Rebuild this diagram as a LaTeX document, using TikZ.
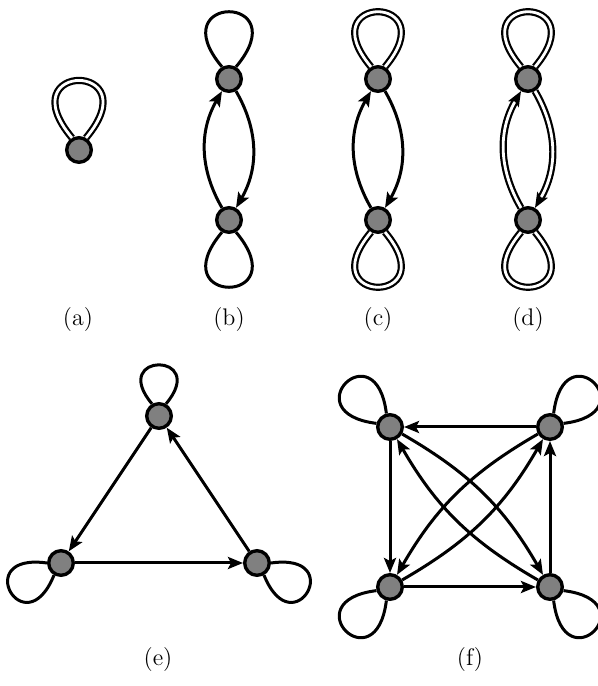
\documentclass[tikz,border=0pt]{standalone}
\usetikzlibrary{arrows.meta}
\definecolor{vgray}{RGB}{128,128,128}
\begin{document}
\begin{tikzpicture}[x=0.5pt,y=0.5pt,
  vtx/.style={circle, draw=black, fill=vgray, line width=1.7pt, minimum size=12.3pt, inner sep=0pt},
  edge/.style={line width=1.5pt},
  tip/.style={-{Stealth[length=7.5pt,width=6pt,inset=1.5pt]}},
  arr/.style={edge, tip},
  dbl/.style={double, line width=1.1pt, double distance=1.4pt},
  lab/.style={font=\fontsize{12}{14}\selectfont, inner sep=0pt}]
\useasboundingbox (0,0) rectangle (598,686);

% (a)
\node[vtx] (a) at (79,536) {};
\draw[dbl] (a.60) .. controls +(50:100) and +(130:100) .. (a.120);
\node[lab] (la) at (78,366) {(a)};

% (b)
\node[vtx] (b1) at (229,607) {};
\node[vtx] (b2) at (229,466) {};
\draw[edge] (b1.60) .. controls +(50:96) and +(130:96) .. (b1.120);
\draw[edge] (b2.240) .. controls +(230:96) and +(310:96) .. (b2.300);
\draw[arr] (b2) to[bend left=30] (b1);
\draw[arr] (b1) to[bend left=30] (b2);
\node[lab] (lb) at (229,366) {(b)};

% (c)
\node[vtx] (c1) at (378,607) {};
\node[vtx] (c2) at (378,466) {};
\draw[dbl] (c1.60) .. controls +(50:96) and +(130:96) .. (c1.120);
\draw[dbl] (c2.240) .. controls +(230:96) and +(310:96) .. (c2.300);
\draw[arr] (c2) to[bend left=30] (c1);
\draw[arr] (c1) to[bend left=30] (c2);
\node[lab] (lc) at (378,366) {(c)};

% (d)
\node[vtx] (d1) at (528,607) {};
\node[vtx] (d2) at (528,466) {};
\draw[dbl] (d1.60) .. controls +(50:96) and +(130:96) .. (d1.120);
\draw[dbl] (d2.240) .. controls +(230:96) and +(310:96) .. (d2.300);
\draw[dbl, tip] (d2) to[bend left=30] (d1);
\draw[dbl, tip] (d1) to[bend left=30] (d2);
\node[lab] (ld) at (528,366) {(d)};

% (e)
\node[vtx] (e1) at (159,270) {};
\node[vtx] (e2) at (61,123) {};
\node[vtx] (e3) at (257,123) {};
\draw[edge] (e1.60) .. controls +(50:68) and +(130:68) .. (e1.120);
\draw[edge] (e2.180) .. controls +(172:78) and +(248:78) .. (e2.240);
\draw[edge] (e3.-60) .. controls +(-68:78) and +(8:78) .. (e3.0);
\draw[arr] (e1) -- (e2);
\draw[arr] (e2) -- (e3);
\draw[arr] (e3) -- (e1);
\node[lab] (le) at (158,26) {(e)};

% (f)
\node[vtx] (f1) at (390,259) {};
\node[vtx] (f2) at (550,259) {};
\node[vtx] (f3) at (390,99) {};
\node[vtx] (f4) at (550,99) {};
\draw[edge] (f1.105) .. controls +(97:85) and +(173:85) .. (f1.165);
\draw[edge] (f2.15) .. controls +(7:85) and +(83:85) .. (f2.75);
\draw[edge] (f3.195) .. controls +(187:85) and +(263:85) .. (f3.255);
\draw[edge] (f4.285) .. controls +(277:85) and +(353:85) .. (f4.345);
\draw[arr] (f2) -- (f1);
\draw[arr] (f1) -- (f3);
\draw[arr] (f3) -- (f4);
\draw[arr] (f4) -- (f2);
\draw[arr] (f1) to[bend left=15] (f4);
\draw[arr] (f4) to[bend left=15] (f1);
\draw[arr] (f2) to[bend right=15] (f3);
\draw[arr] (f3) to[bend right=15] (f2);
\node[lab] (lf) at (470,26) {(f)};
\end{tikzpicture}
\end{document}
